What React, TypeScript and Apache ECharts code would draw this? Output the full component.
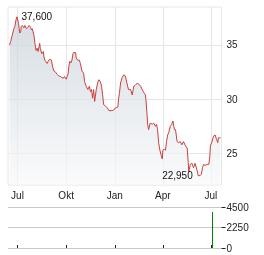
import React, { useEffect, useRef } from 'react';
import * as echarts from 'echarts';

const priceDates = [
  '2023-06-16','2023-06-18','2023-06-21','2023-06-24','2023-06-26','2023-06-28','2023-06-30','2023-07-02','2023-07-03','2023-07-05',
  '2023-07-07','2023-07-08','2023-07-10','2023-07-13','2023-07-15','2023-07-18','2023-07-20','2023-07-23','2023-07-26','2023-07-27',
  '2023-07-29','2023-08-01','2023-08-03','2023-08-05','2023-08-07','2023-08-09','2023-08-12','2023-08-13','2023-08-16','2023-08-19',
  '2023-08-20','2023-08-22','2023-08-23','2023-08-26','2023-08-29','2023-09-01','2023-09-03','2023-09-06','2023-09-08','2023-09-11',
  '2023-09-14','2023-09-17','2023-09-20','2023-09-23','2023-09-26','2023-09-28','2023-10-01','2023-10-03','2023-10-05','2023-10-06',
  '2023-10-08','2023-10-10','2023-10-12','2023-10-14','2023-10-15','2023-10-19','2023-10-20','2023-10-23','2023-10-26','2023-10-28',
  '2023-10-31','2023-11-03','2023-11-05','2023-11-08','2023-11-11','2023-11-14','2023-11-16','2023-11-18','2023-11-20','2023-11-22',
  '2023-11-24','2023-11-27','2023-11-30','2023-12-02','2023-12-05','2023-12-07','2023-12-09','2023-12-11','2023-12-14','2023-12-18',
  '2023-12-21','2023-12-27','2023-12-30','2024-01-02','2024-01-07','2024-01-08','2024-01-10','2024-01-12','2024-01-15','2024-01-18',
  '2024-01-21','2024-01-24','2024-01-27','2024-01-31','2024-02-03','2024-02-06','2024-02-09','2024-02-13','2024-02-19','2024-02-22',
  '2024-02-25','2024-02-28','2024-02-29','2024-03-02','2024-03-03','2024-03-05','2024-03-08','2024-03-12','2024-03-15','2024-03-18',
  '2024-03-20','2024-03-22','2024-03-24','2024-03-26','2024-03-29','2024-03-31','2024-04-01','2024-04-04','2024-04-06','2024-04-08',
  '2024-04-10','2024-04-12','2024-04-15','2024-04-18','2024-04-20','2024-04-23','2024-04-25','2024-04-28','2024-05-01','2024-05-04',
  '2024-05-07','2024-05-10','2024-05-14','2024-05-17','2024-05-19','2024-05-20','2024-05-23','2024-05-26','2024-05-29','2024-06-01',
  '2024-06-05','2024-06-07','2024-06-11','2024-06-13','2024-06-15','2024-06-17','2024-06-20','2024-06-24','2024-06-27','2024-06-29',
  '2024-06-30','2024-07-03','2024-07-06','2024-07-09','2024-07-11','2024-07-14','2024-07-15','2024-07-19',
];

const priceValues = [
  35.0, 35.3, 35.9, 36.5, 36.7, 37.3, 37.6, 37.2, 37.0, 36.1,
  36.2, 36.7, 36.8, 36.6, 36.8, 36.5, 36.6, 36.8, 36.6, 36.4,
  36.5, 35.9, 35.15, 34.5, 34.7, 34.4, 35.15, 34.7, 34.2, 34.4,
  33.9, 33.6, 33.5, 33.3, 33.6, 33.7, 33.6, 32.9, 32.6, 32.5,
  32.3, 32.15, 32.1, 32.0, 31.95, 32.1, 31.85, 32.1, 32.4, 33.0,
  33.5, 33.35, 33.6, 34.2, 34.3, 34.3, 33.8, 33.6, 33.6, 33.3,
  32.6, 32.4, 31.6, 31.2, 30.9, 31.2, 30.7, 30.9, 30.1, 30.9,
  29.8, 30.9, 31.6, 31.8, 31.6, 31.2, 30.4, 29.5, 29.4, 29.2,
  28.95, 28.95, 29.0, 29.2, 29.3, 29.95, 30.6, 31.5, 32.0, 32.25,
  32.15, 31.5, 30.9, 30.9, 30.4, 31.2, 31.3, 31.5, 31.2, 30.9,
  30.6, 30.4, 29.95, 28.7, 27.8, 27.2, 27.8, 27.7, 27.8, 27.5,
  27.7, 27.2, 26.0, 25.4, 24.8, 24.5, 25.3, 25.4, 25.3, 26.1,
  26.7, 26.9, 27.5, 27.7, 28.0, 27.2, 27.2, 26.1, 26.0, 26.1,
  25.8, 26.1, 25.7, 25.5, 24.2, 23.3, 24.0, 24.1, 23.7, 24.1,
  23.4, 22.95, 22.98, 23.1, 23.7, 24.0, 23.9, 24.0, 24.0, 24.8,
  25.7, 26.1, 26.6, 26.7, 26.4, 26.0, 26.45, 26.45,
];

const volumeDates = ['2024-07-04'];
const volumeValues = [3950];

const monthTicks = ['2023-07-01', '2023-10-01', '2024-01-01', '2024-04-01', '2024-07-01'];
const monthLabels = ['Jul', 'Okt', 'Jan', 'Apr', 'Jul'];

const xStart = '2023-06-13';
const xEnd = '2024-07-21';
const priceMin = 22.1;
const priceMax = 38.5;
const priceTicks = [25, 30, 35];
const volumeTicks = [0, 2250, 4500];

const FONT = '"Liberation Sans", Arial, sans-serif';

function toTime(s: string): number {
  const [y, m, d] = s.split('-').map(Number);
  return Date.UTC(y, m - 1, d);
}

export default function App() {
  const ref = useRef<HTMLDivElement>(null);

  useEffect(() => {
    if (!ref.current) return;
    const chart = echarts.init(ref.current, undefined, { renderer: 'svg' });
    const tickTimes = monthTicks.map(toTime);
    const labelFor = (v: number) => {
      const i = tickTimes.indexOf(v);
      return i >= 0 ? monthLabels[i] : '';
    };
    const hiddenLine = { show: true, lineStyle: { color: 'rgba(0,0,0,0)', width: 1 } };

    chart.setOption({
      animation: false,
      textStyle: { fontFamily: FONT },
      grid: [
        { left: 8, right: 42.5, top: 7, height: 178, show: true, borderColor: '#e6e6e6', borderWidth: 1, backgroundColor: 'transparent' },
        { left: 8, right: 42.5, top: 207, height: 41 },
      ],
      xAxis: [
        {
          type: 'value', gridIndex: 0,
          min: toTime(xStart), max: toTime(xEnd),
          axisLine: { show: false },
          axisTick: { show: false, customValues: tickTimes },
          splitLine: { show: true, lineStyle: { color: '#e6e6e6', width: 1 } },
          axisLabel: {
            customValues: tickTimes, formatter: labelFor, color: '#222', fontSize: 10, fontFamily: FONT, margin: 5,
            hideOverlap: false,
          },
        },
        {
          type: 'value', gridIndex: 1, position: 'top',
          min: toTime(xStart), max: toTime(xEnd),
          axisLine: hiddenLine,
          axisTick: { show: true, customValues: tickTimes, length: 3, inside: false, lineStyle: { color: '#222', width: 1 } },
          splitLine: { show: false },
          axisLabel: { show: false, customValues: tickTimes },
        },
      ],
      yAxis: [
        {
          type: 'value', gridIndex: 0, position: 'right',
          min: priceMin, max: priceMax,
          axisLine: { show: false },
          axisTick: { show: false, customValues: priceTicks },
          splitLine: { show: true, lineStyle: { color: '#e6e6e6', width: 1 } },
          axisLabel: { customValues: priceTicks, color: '#222', fontSize: 10, fontFamily: FONT, margin: 5 },
        },
        {
          type: 'value', gridIndex: 1, position: 'right',
          min: volumeTicks[0], max: volumeTicks[2], interval: volumeTicks[1],
          axisLine: hiddenLine,
          axisTick: { show: true, length: 4, lineStyle: { color: '#222', width: 1 } },
          splitLine: { show: true, lineStyle: { color: '#c8c8c8', width: 1 } },
          axisLabel: { color: '#222', fontSize: 10, fontFamily: FONT, margin: 5, formatter: (v: number) => String(v) },
        },
      ],
      series: [
        {
          type: 'line', xAxisIndex: 0, yAxisIndex: 0,
          data: priceDates.map((d, i) => [toTime(d), priceValues[i]]),
          showSymbol: false, symbol: 'none',
          lineStyle: { color: '#c8403f', width: 1 },
          areaStyle: {
            color: new echarts.graphic.LinearGradient(0, 0, 0, 1, [
              { offset: 0, color: '#c5cfd8' },
              { offset: 1, color: '#f8f9fa' },
            ]),
          },
          markPoint: {
            symbol: 'circle', symbolSize: 1,
            itemStyle: { color: 'rgba(0,0,0,0)' },
            label: {
              show: true, color: '#111', fontSize: 10, fontFamily: FONT,
              formatter: (p: any) => Number(p.value).toFixed(3).replace('.', ','),
            },
            data: [
              { type: 'max', label: { position: 'right', distance: 4 } },
              { type: 'min', label: { position: 'left', distance: 5 } },
            ],
          },
        },
        {
          type: 'bar', xAxisIndex: 1, yAxisIndex: 1,
          data: volumeDates.map((d, i) => [toTime(d), volumeValues[i]]),
          barWidth: 1,
          itemStyle: { color: '#008000' },
        },
      ],
    });

    return () => chart.dispose();
  }, []);

  return <div ref={ref} style={{ position: 'fixed', left: 0, top: 0, width: 264, height: 255 }} />;
}
